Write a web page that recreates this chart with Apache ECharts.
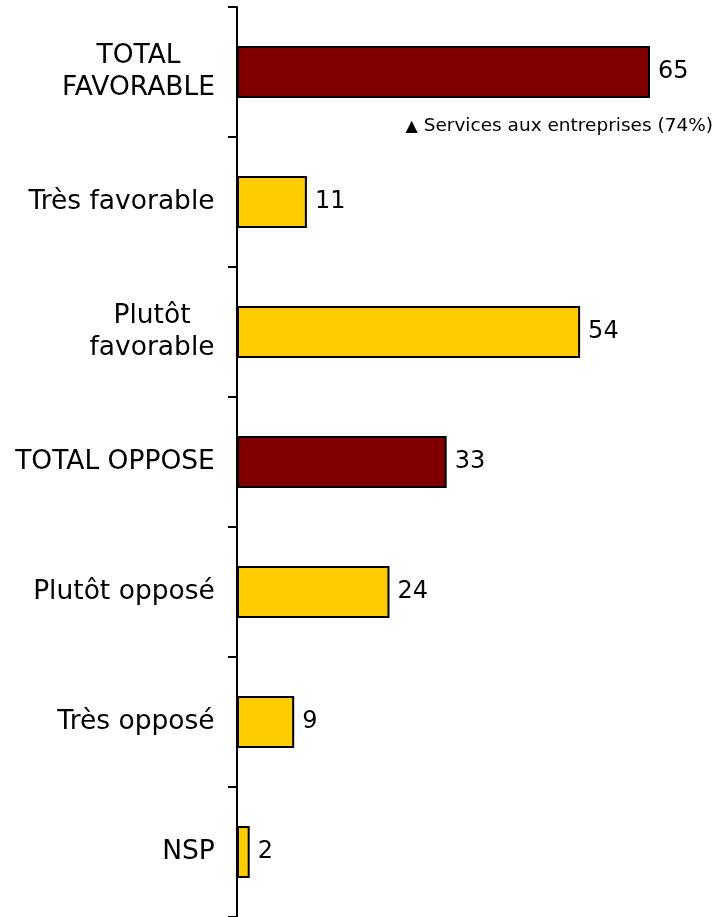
<!DOCTYPE html>
<html>
<head>
<meta charset="utf-8">
<script src="https://cdn.jsdelivr.net/npm/echarts@6/dist/echarts.min.js"></script>
<style>html,body{margin:0;padding:0;background:#fff}#c{width:722px;height:917px}</style>
</head>
<body>
<div id="c"></div>
<script>
const categories = ['TOTAL\nFAVORABLE', 'Très favorable', 'Plutôt\nfavorable', 'TOTAL OPPOSE', 'Plutôt opposé', 'Très opposé', 'NSP'];
const values = [65, 11, 54, 33, 24, 9, 2];
const totalCategories = ['TOTAL\nFAVORABLE', 'TOTAL OPPOSE'];
const noteText = 'Services aux entreprises (74%)';

const FONT = 'DejaVu Sans';
const LABEL_SIZE = 26.5;
const cv = document.createElement('canvas').getContext('2d');
cv.font = LABEL_SIZE + 'px "' + FONT + '"';
const rich = {};
categories.forEach((c, i) => {
  const w = Math.max(...c.split('\n').map(l => cv.measureText(l).width));
  rich['c' + i] = { width: Math.ceil(w), align: 'center', fontSize: LABEL_SIZE, fontFamily: FONT, color: '#000', lineHeight: 32 };
});

const chart = echarts.init(document.getElementById('c'), null, { renderer: 'canvas' });
chart.setOption({
  animation: false,
  grid: { left: 237, top: 7, height: 912, width: 70 * 413 / 65 },
  xAxis: { type: 'value', min: 0, max: 70, show: false },
  yAxis: {
    type: 'category',
    inverse: true,
    data: categories,
    axisLine: { lineStyle: { color: '#000', width: 2 } },
    axisTick: { show: true, length: 9, inside: false, lineStyle: { color: '#000', width: 2 } },
    axisLabel: {
      margin: 22,
      formatter: function (v) {
        const idx = categories.indexOf(v);
        return v.split('\n').map(l => '{c' + idx + '|' + l + '}').join('\n');
      },
      rich: rich
    }
  },
  series: [{
    type: 'bar',
    barWidth: '40%',
    data: values.map((v, i) => ({
      value: v,
      itemStyle: { color: totalCategories.includes(categories[i]) ? '#800000' : '#FFCC00' }
    })),
    itemStyle: { borderColor: '#000', borderWidth: 2 },
    label: {
      show: true, position: 'right', distance: 8,
      color: '#000', fontSize: 24, fontFamily: FONT
    }
  }],
  graphic: [{
    type: 'text',
    right: 9,
    top: 117,
    style: {
      text: '{t|▲} ' + noteText,
      fontSize: 18.5,
      fontFamily: FONT,
      fill: '#000',
      rich: { t: { fontSize: 16, fontFamily: FONT, fill: '#000' } }
    }
  }]
});
</script>
</body>
</html>
